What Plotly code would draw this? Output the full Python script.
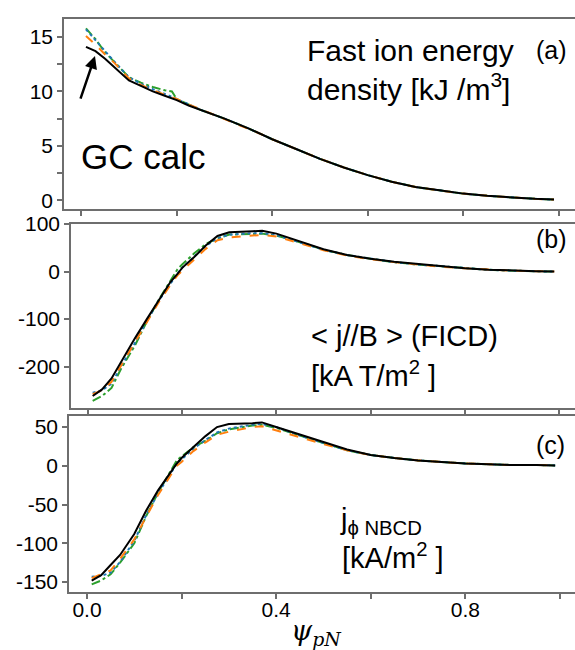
import plotly.graph_objects as go
from plotly.subplots import make_subplots

# psi_pN grid (shared by all panels)
psi = [0.01, 0.03, 0.05, 0.07, 0.1, 0.125, 0.15, 0.175, 0.19, 0.2, 0.225, 0.25, 0.275, 0.3,
       0.35, 0.37, 0.4, 0.45, 0.5, 0.55, 0.6, 0.65, 0.7, 0.75, 0.8, 0.85, 0.9, 0.95, 0.99]

# (a) fast ion energy density [kJ/m3]
energy_gc = [14.1, 13.7, 13.0, 12.2, 11.0, 10.5, 10.0, 9.6, 9.35, 9.2, 8.7, 8.3, 7.9, 7.5,
             6.6, 6.2, 5.6, 4.7, 3.8, 3.0, 2.3, 1.7, 1.2, 0.9, 0.6, 0.4, 0.25, 0.12, 0.05]
energy_or = [15.1, 14.3, 13.4, 12.6, 11.2, 10.6, 10.1, 9.7, 9.5, 9.3, 8.8, 8.35, 7.9, 7.5,
             6.6, 6.2, 5.6, 4.7, 3.8, 3.0, 2.3, 1.7, 1.2, 0.9, 0.6, 0.4, 0.25, 0.12, 0.05]
energy_gr = [15.8, 14.8, 13.6, 12.7, 11.3, 10.8, 10.4, 10.1, 10.0, 9.3, 8.8, 8.3, 7.9, 7.5,
             6.6, 6.2, 5.6, 4.7, 3.8, 3.0, 2.3, 1.7, 1.2, 0.9, 0.6, 0.4, 0.25, 0.12, 0.05]
energy_bl = [15.7, 14.7, 13.6, 12.7, 11.3, 10.7, 10.2, 9.8, 9.5, 9.3, 8.8, 8.3, 7.9, 7.5,
             6.6, 6.2, 5.6, 4.7, 3.8, 3.0, 2.3, 1.7, 1.2, 0.9, 0.6, 0.4, 0.25, 0.12, 0.05]

# (b) <j//B> (FICD) [kA T/m2]
ficd_gc = [-262, -248, -225, -190, -140, -100, -60, -22, -5, 8, 30, 55, 75, 83,
           85, 86, 80, 64, 47, 35, 27, 21, 16, 11, 7, 4, 2, 1, 0]
ficd_or = [-258, -250, -232, -198, -148, -106, -65, -28, -8, 2, 26, 48, 66, 72,
           76, 77, 74, 60, 45, 34, 26, 20, 15, 10, 7, 4, 2, 1, 0]
ficd_gr = [-272, -262, -245, -205, -155, -105, -60, -20, 5, 15, 38, 58, 70, 78,
           80, 80, 76, 62, 46, 35, 27, 20, 15, 11, 7, 4, 2, 1, 0]
ficd_bl = [-255, -250, -236, -200, -150, -104, -62, -24, -4, 8, 32, 54, 70, 78,
           81, 81, 77, 62, 46, 35, 27, 20, 15, 11, 7, 4, 2, 1, 0]

# (c) j_phi NBCD [kA/m2]
nbcd_gc = [-148, -141, -128, -115, -88, -58, -32, -10, 3, 10, 24, 38, 50, 54,
           55, 56, 50, 40, 30, 21, 14, 10, 7, 5, 3, 2, 1, 1, 0.5]
nbcd_or = [-145, -140, -135, -120, -95, -66, -38, -14, 0, 5, 19, 30, 40, 44,
           50, 51, 46, 37, 28, 20, 14, 10, 7, 5, 3, 2, 1, 1, 0.5]
nbcd_gr = [-153, -148, -140, -125, -100, -65, -35, -8, 7, 12, 24, 32, 42, 47,
           52, 53, 49, 39, 29, 20, 14, 10, 7, 5, 3, 2, 1, 1, 0.5]
nbcd_bl = [-143, -142, -138, -124, -97, -64, -36, -12, 3, 8, 22, 33, 43, 48,
           53, 54, 50, 39, 29, 20, 14, 10, 7, 5, 3, 2, 1, 1, 0.5]

x_ticks = [0, 0.4, 0.8]
x_labels = ["0.0", "0.4", "0.8"]
a_ticks = [0, 5, 10, 15]
a_labels = ["0", "5", "10", "15"]
b_ticks = [-200, -100, 0, 100]
b_labels = ["-200", "-100", "0", "100"]
c_ticks = [-150, -100, -50, 0, 50]
c_labels = ["-150", "-100", "-50", "0", "50"]

W, H = 575, 650


def px(x, y):
    return x / W, 1 - y / H


FONT = "Liberation Sans, Arial, sans-serif"
AXC = "#6e6e6e"

fig = make_subplots(rows=3, cols=1)

styles = [
    dict(color="#2ca02c", width=2, dash="dashdot"),
    dict(color="#1f77b4", width=2, dash="dot"),
    dict(color="#ff7f0e", width=2, dash="dash"),
    dict(color="black", width=2, dash="solid"),
]
panels = [
    (energy_gr, energy_bl, energy_or, energy_gc),
    (ficd_gr, ficd_bl, ficd_or, ficd_gc),
    (nbcd_gr, nbcd_bl, nbcd_or, nbcd_gc),
]
for r, series in enumerate(panels, start=1):
    for ys, st in zip(series, styles):
        fig.add_trace(go.Scatter(x=psi, y=ys, mode="lines", line=st, showlegend=False),
                      row=r, col=1)

axis_common = dict(showline=True, linecolor=AXC, linewidth=1.5, ticks="outside",
                   tickcolor=AXC, ticklen=5, tickwidth=1.5, showgrid=False, zeroline=False,
                   tickfont=dict(family=FONT, size=21, color="black"))
x_minor = dict(dtick=0.2, tick0=0, ticks="outside", ticklen=5, tickwidth=1.5,
               tickcolor=AXC, showgrid=False)

fig.update_layout(
    width=W, height=H, autosize=False,
    margin=dict(l=0, r=0, t=0, b=0),
    paper_bgcolor="white", plot_bgcolor="white",
    showlegend=False,
    xaxis=dict(axis_common, domain=[64 / W, 1], range=[-0.036, 1.034], mirror=True,
               tickvals=x_ticks, showticklabels=False, minor=x_minor),
    xaxis2=dict(axis_common, domain=[71 / W, 1], range=[-0.036, 1.034], mirror=True,
                tickvals=x_ticks, showticklabels=False, minor=x_minor),
    xaxis3=dict(axis_common, domain=[69 / W, 1], range=[-0.038, 1.032], mirror=True,
                tickvals=x_ticks, ticktext=x_labels, minor=x_minor, ticklabelstandoff=-7),
    yaxis=dict(axis_common, domain=[1 - 202 / H, 1 - 8 / H], range=[-0.81, 16.67],
               tickvals=a_ticks, ticktext=a_labels,
               minor=dict(dtick=2.5, tick0=0, ticks="outside", ticklen=5, tickwidth=1.5,
                          tickcolor=AXC, showgrid=False)),
    yaxis2=dict(axis_common, domain=[1 - 405 / H, 1 - 217 / H], range=[-287, 101],
                tickvals=b_ticks, ticktext=b_labels),
    yaxis3=dict(axis_common, domain=[1 - 593 / H, 1 - 413 / H], range=[-163, 64.6],
                tickvals=c_ticks, ticktext=c_labels),
)


def note(text, x, y, size=26, xanchor="left", family=FONT):
    xp, yp = px(x, y)
    fig.add_annotation(text=text, x=xp, y=yp, xref="paper", yref="paper", showarrow=False,
                       xanchor=xanchor, yanchor="middle", align="left",
                       font=dict(family=family, size=size, color="black"))


note("Fast ion energy", 305, 40, size=30)
note("density [kJ /m<sup>3</sup>]", 305, 78, size=30)
note("(a)", 534, 40, size=25)
note("GC calc", 79, 148, size=35)
note("(b)", 534, 233, size=25)
note("&lt; j//B &gt; (FICD)", 309, 332, size=29)
note("[kA T/m<sup>2</sup> ]", 309, 370, size=29)
note("(c)", 534, 443, size=25)
note("j<sub>ϕ NBCD</sub>", 338, 520, size=29)
note("[kA/m<sup>2</sup> ]", 340, 556, size=29)
note("<i>ψ<sub>pN</sub></i>", 289, 634, size=27, family="DejaVu Serif, serif")

hx, hy = px(95, 46)
fig.add_annotation(x=hx, y=hy, xref="paper", yref="paper", text="", showarrow=True,
                   ax=-15, ay=44, arrowhead=2, arrowsize=1, arrowwidth=2.5,
                   arrowcolor="black")

fig.write_html("out.html", config={"displayModeBar": False},
               post_script="document.body.style.margin='0';document.body.style.overflow='hidden';")
